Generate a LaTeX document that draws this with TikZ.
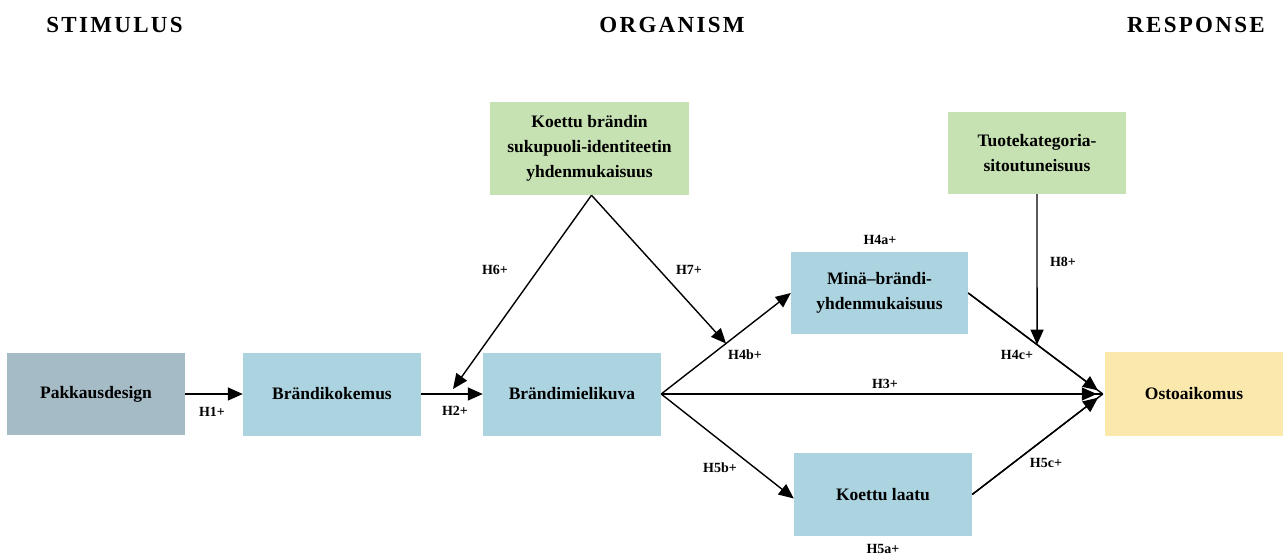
\documentclass[tikz,border=0pt]{standalone}
\usepackage{fontspec}
\setmainfont{Liberation Serif}
\usetikzlibrary{arrows.meta,calc}
\definecolor{pakcol}{HTML}{A5BCC7}
\definecolor{bluecol}{HTML}{ABD3E0}
\definecolor{greencol}{HTML}{C6E1B2}
\definecolor{yellowcol}{HTML}{FAE8AD}
\tikzset{
  box/.style={fill=bluecol, draw=none, minimum width=178pt, minimum height=83pt, inner sep=2pt, align=center, font=\fontsize{17.5}{25}\selectfont\bfseries},
  heading/.style={font=\fontsize{23}{26}\selectfont\bfseries\addfontfeature{LetterSpace=10}},
  hlabel/.style={font=\fontsize{14}{16}\selectfont\bfseries, inner sep=0pt},
  plainline/.style={line width=1.4pt},
  conn/.style={line width=1.4pt, -{Triangle[length=15pt,width=13pt]}},
}
\begin{document}
\begin{tikzpicture}[x=1pt,y=-1pt]
\useasboundingbox (0,0) rectangle (1283,555);
% headings
\node[heading] (hs) at (114.5,25) {STIMULUS};
\node[heading] (ho) at (672,25) {ORGANISM};
\node[heading] (hr) at (1196,25) {RESPONSE};
% boxes
\node[box, fill=pakcol, minimum height=82pt] (pak) at (96,394) {Pakkausdesign};
\node[box] (bk) at (332,394) {Brändikokemus};
\node[box] (bm) at (572,394) {Brändimielikuva};
\node[box, minimum width=177pt, minimum height=82pt] (mb) at (879.5,293) {Minä–brändi-\\yhdenmukaisuus};
\node[box] (kl) at (883,494.5) {Koettu laatu};
\node[box, fill=yellowcol, minimum height=84pt] (ost) at (1194,394) {Ostoaikomus};
\node[box, fill=greencol, minimum width=199pt, minimum height=93pt] (g1) at (589.5,148.5) {Koettu brändin\\sukupuoli-identiteetin\\yhdenmukaisuus};
\node[box, fill=greencol, minimum height=82pt] (g2) at (1037,153) {Tuotekategoria-\\sitoutuneisuus};
% coordinates
\coordinate (apex) at ($(g1.south)+(2,0)$);
\coordinate (ostin) at ($(ost.west)+(-2,0)$);
\coordinate (h6end) at (453,389);
\coordinate (h7end) at ($(bm.east)!0.5!(mb.west)$);
\coordinate (g2down) at ($(g2.south)+(0,300)$);
\coordinate (h8end) at (intersection of mb.east--ostin and g2.south--g2down);
\coordinate (klin) at ($(kl.west)+(0,4)$);
% connectors
\draw[conn] (pak.east) -- (bk.west);
\draw[conn] (bk.east) -- (bm.west);
\draw[conn] (apex) -- (h6end);
\draw[conn] (apex) -- (h7end);
\draw[conn] (bm.east) -- (mb.west);
\draw[conn] (bm.east) -- (klin);
\draw[plainline] (bm.east) -- (ostin);
\draw[plainline] (mb.east) -- (ostin);
\draw[plainline] (kl.east) -- (ostin);
\draw[conn, shorten >=6pt] (bm.east) -- (ostin);
\draw[conn, shorten >=6pt] (mb.east) -- (ostin);
\draw[conn, shorten >=6pt] (kl.east) -- (ostin);
\draw[conn] (g2.south) -- (h8end);
% labels
\node[hlabel] (l1) at (212,412) {H1+};
\node[hlabel] (l2) at (455,411) {H2+};
\node[hlabel] (l6) at (495,270) {H6+};
\node[hlabel] (l7) at (689,270) {H7+};
\node[hlabel] (l4a) at (880,240) {H4a+};
\node[hlabel] (l8) at (1063,262) {H8+};
\node[hlabel] (l4b) at (745,355) {H4b+};
\node[hlabel] (l4c) at (1017,355) {H4c+};
\node[hlabel] (l3) at (885,384) {H3+};
\node[hlabel] (l5b) at (720,468) {H5b+};
\node[hlabel] (l5c) at (1046,463) {H5c+};
\node[hlabel] (l5a) at (883,549) {H5a+};
\end{tikzpicture}
\end{document}
